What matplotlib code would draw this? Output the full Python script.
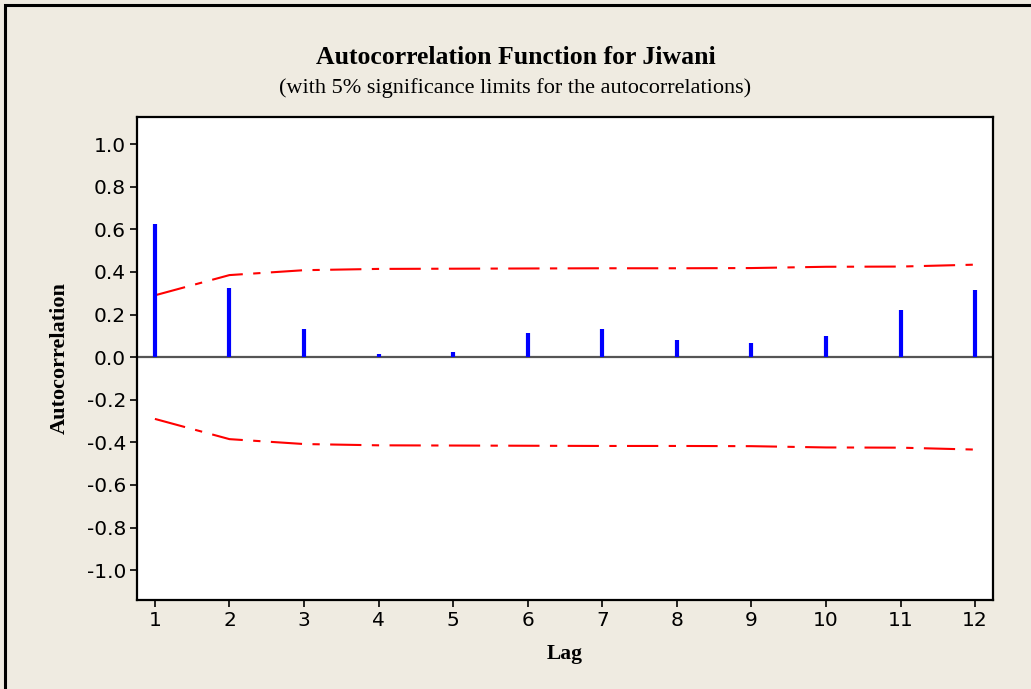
import numpy as np
import matplotlib.pyplot as plt
from matplotlib.patches import Rectangle

# ACF values and 5% significance limits by lag
lags = np.arange(1, 13)
acf = [0.624, 0.324, 0.131, 0.014, 0.023, 0.113, 0.131, 0.080, 0.066, 0.099, 0.220, 0.315]
limit = [0.290, 0.385, 0.408, 0.414, 0.415, 0.416, 0.417, 0.417, 0.418, 0.424, 0.425, 0.434]
yticks = [-1.0, -0.8, -0.6, -0.4, -0.2, 0.0, 0.2, 0.4, 0.6, 0.8, 1.0]

BG = "#EFEBE1"

fig = plt.figure(figsize=(10.31, 6.89), dpi=100, facecolor=BG)
# outer frame
fig.patches.append(Rectangle((5 / 1031, -0.1), 1.2, 1.1 - 5 / 689,
                             transform=fig.transFigure, fill=False,
                             edgecolor="black", lw=2.2, zorder=10))

ax = fig.add_axes([137 / 1031, 1 - 600 / 689, (993 - 137) / 1031, (600 - 117) / 689])
ax.set_facecolor("white")

ax.vlines(lags, 0, acf, color="#0000FF", lw=3.0, zorder=3)
ax.axhline(0, color="#555555", lw=1.6, zorder=2)

dash = (0, (15, 5, 3.5, 5))
ax.plot(lags, limit, color="red", lw=1.5, linestyle=dash, zorder=2)
ax.plot(lags, [-v for v in limit], color="red", lw=1.5, linestyle=dash, zorder=2)

ax.set_xlim(0.76, 12.24)
ax.set_ylim(-1.14, 1.127)
ax.set_xticks(lags)
ax.set_yticks(yticks)
ax.set_yticklabels([f"{v:.1f}" for v in yticks])
ax.tick_params(labelsize=14.5, length=5, width=1.2, colors="black", pad=3)
for s in ax.spines.values():
    s.set_linewidth(1.6)

serif = ["Liberation Serif", "DejaVu Serif"]
ax.set_xlabel("Lag", family=serif, fontweight="bold", fontsize=15.5, labelpad=10)
ax.set_ylabel("Autocorrelation", family=serif, fontweight="bold", fontsize=16, labelpad=12)

fig.text(0.5, 1 - 57 / 689, "Autocorrelation Function for Jiwani", family=serif,
         fontweight="bold", fontsize=18.5, ha="center", va="center")
fig.text(0.5, 1 - 88 / 689, "(with 5% significance limits for the autocorrelations)",
         family=serif, fontsize=16, ha="center", va="center")

fig.savefig("out.png", dpi=100, facecolor=BG)
